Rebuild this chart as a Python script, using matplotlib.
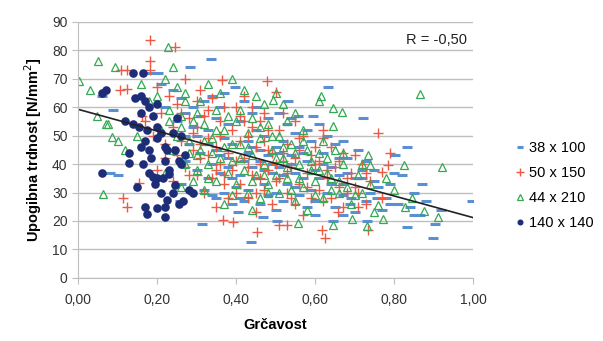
import numpy as np
import matplotlib.pyplot as plt
from matplotlib.ticker import FuncFormatter

plt.rcParams['font.family'] = ['Liberation Sans', 'DejaVu Sans']

# values: (grcavost, strength)
s38 = [(0.06, 64), (0.089, 59), (0.081, 37), (0.102, 36), (0.182, 72), (0.203, 72),
       (0.284, 74), (0.337, 77), (0.397, 67), (0.532, 62), (0.557, 57), (0.596, 57),
       (0.632, 67), (0.722, 56), (0.67, 48), (0.832, 46), (0.803, 43), (0.998, 27),
       (0.834, 18), (0.9, 14), (0.904, 19), (0.866, 22), (0.85, 22), (0.79, 26),
       (0.81, 26), (0.756, 28), (0.731, 20), (0.672, 22), (0.646, 20), (0.689, 26),
       (0.313, 19), (0.438, 12.5), (0.469, 21.5), (0.406, 23), (0.503, 20), (0.258, 27),
       (0.21, 68), (0.24, 66), (0.26, 63), (0.22, 60), (0.27, 58), (0.25, 55), (0.29, 53),
       (0.3, 50), (0.28, 47), (0.31, 44), (0.27, 41), (0.3, 38), (0.33, 35), (0.26, 33),
       (0.32, 31), (0.34, 64), (0.36, 60), (0.35, 56), (0.38, 54), (0.33, 52), (0.37, 49),
       (0.39, 47), (0.35, 45), (0.38, 42), (0.34, 40), (0.36, 37), (0.39, 35), (0.4, 32),
       (0.37, 30), (0.35, 28), (0.39, 26), (0.41, 28), (0.42, 62), (0.44, 58), (0.41, 55),
       (0.45, 52), (0.47, 50), (0.43, 48), (0.46, 45), (0.48, 43), (0.42, 41), (0.44, 39),
       (0.49, 37), (0.45, 35), (0.47, 33), (0.43, 31), (0.48, 29), (0.46, 26), (0.5, 24),
       (0.51, 58), (0.53, 54), (0.55, 51), (0.52, 48), (0.56, 46), (0.54, 43), (0.58, 41),
       (0.51, 39), (0.55, 37), (0.57, 35), (0.53, 33), (0.59, 31), (0.56, 29), (0.52, 27),
       (0.58, 25), (0.6, 22), (0.61, 54), (0.63, 50), (0.65, 47), (0.62, 44), (0.66, 42),
       (0.64, 39), (0.68, 37), (0.61, 35), (0.67, 33), (0.63, 30), (0.69, 28), (0.65, 25),
       (0.7, 23), (0.71, 45), (0.73, 41), (0.75, 38), (0.72, 35), (0.76, 32), (0.74, 30),
       (0.78, 28), (0.77, 24), (0.79, 33), (0.82, 36), (0.85, 30), (0.88, 27), (0.84, 25),
       (0.92, 24), (0.87, 33),
       (0.29, 60), (0.31, 57), (0.33, 47), (0.36, 43), (0.38, 39), (0.41, 36), (0.43, 44),
       (0.44, 46), (0.46, 41), (0.47, 38), (0.49, 40), (0.5, 46), (0.51, 44), (0.52, 36),
       (0.54, 40), (0.55, 32), (0.57, 44), (0.59, 48), (0.6, 38), (0.62, 40), (0.64, 33),
       (0.66, 36), (0.67, 29), (0.7, 35), (0.72, 38), (0.73, 27), (0.27, 50), (0.32, 62),
       (0.37, 65), (0.45, 60), (0.48, 56), (0.54, 56), (0.58, 52), (0.34, 29), (0.42, 27),
       (0.5, 30), (0.6, 27), (0.68, 42), (0.75, 34), (0.8, 37)]

s50 = [(0.182, 83.5), (0.246, 81), (0.182, 76), (0.182, 73), (0.123, 73), (0.11, 73),
       (0.364, 69.5), (0.478, 69), (0.501, 65.4), (0.106, 66), (0.125, 66.5), (0.161, 57),
       (0.759, 51), (0.621, 52), (0.786, 39.6), (0.769, 37.3), (0.735, 17), (0.625, 14),
       (0.617, 17), (0.659, 23), (0.452, 16), (0.368, 20.4), (0.393, 19.8), (0.115, 28),
       (0.123, 25), (0.528, 18.6), (0.51, 18.6), (0.154, 33.4),
       (0.2, 67), (0.23, 64), (0.27, 70), (0.25, 61), (0.21, 58), (0.28, 56), (0.24, 53),
       (0.19, 50), (0.26, 48), (0.29, 45), (0.22, 42), (0.27, 39), (0.3, 36), (0.24, 34),
       (0.28, 31), (0.2, 38), (0.17, 55), (0.3, 62), (0.31, 66), (0.34, 63), (0.37, 60),
       (0.32, 57), (0.36, 55), (0.39, 52), (0.33, 49), (0.35, 46), (0.38, 44), (0.31, 42),
       (0.36, 40), (0.39, 38), (0.34, 35), (0.37, 33), (0.32, 30), (0.38, 28), (0.35, 25),
       (0.4, 60), (0.42, 64), (0.44, 60), (0.41, 57), (0.46, 55), (0.48, 52), (0.43, 50),
       (0.47, 48), (0.45, 46), (0.49, 44), (0.42, 42), (0.46, 40), (0.48, 38), (0.44, 36),
       (0.41, 33), (0.47, 31), (0.43, 28), (0.49, 26), (0.45, 23), (0.52, 58), (0.55, 55),
       (0.51, 52), (0.57, 50), (0.53, 47), (0.56, 45), (0.59, 43), (0.52, 41), (0.54, 39),
       (0.58, 37), (0.51, 35), (0.56, 33), (0.53, 30), (0.59, 28), (0.55, 26), (0.57, 22),
       (0.62, 49), (0.64, 46), (0.67, 44), (0.61, 41), (0.65, 39), (0.69, 37), (0.63, 35),
       (0.66, 32), (0.68, 30), (0.62, 27), (0.67, 25), (0.7, 43), (0.72, 40), (0.74, 34),
       (0.71, 30), (0.77, 28), (0.73, 26), (0.79, 44),
       (0.26, 58), (0.29, 51), (0.31, 47), (0.33, 43), (0.35, 38), (0.37, 36), (0.4, 41),
       (0.41, 48), (0.43, 39), (0.44, 53), (0.46, 35), (0.47, 58), (0.48, 45), (0.5, 40),
       (0.5, 34), (0.52, 44), (0.53, 37), (0.55, 42), (0.56, 49), (0.58, 32), (0.6, 40),
       (0.6, 46), (0.61, 31), (0.63, 38), (0.64, 28), (0.66, 41), (0.68, 35), (0.7, 32),
       (0.71, 25), (0.73, 37), (0.22, 47), (0.25, 43), (0.28, 36), (0.3, 53), (0.33, 59),
       (0.4, 30), (0.45, 30), (0.54, 28), (0.36, 50), (0.42, 55)]

s44 = [(0.003, 69), (0.051, 76), (0.094, 74), (0.03, 66), (0.229, 81), (0.389, 70),
       (0.494, 62.5), (0.047, 57), (0.07, 54), (0.076, 54), (0.085, 49.6), (0.867, 64.6),
       (0.614, 64), (0.61, 62), (0.646, 59.5), (0.668, 58.4), (0.646, 53.3), (0.921, 38.8),
       (0.826, 39.6), (0.735, 43), (0.738, 39.6), (0.72, 40), (0.845, 28), (0.828, 25),
       (0.876, 23.5), (0.912, 21.3), (0.76, 25.6), (0.75, 23), (0.773, 20.7), (0.693, 20.6),
       (0.646, 18.6), (0.731, 18.4), (0.064, 29.5), (0.558, 19.2), (0.44, 24), (0.1, 48),
       (0.12, 45), (0.24, 74), (0.22, 70), (0.25, 67), (0.2, 64), (0.27, 62), (0.23, 59),
       (0.26, 57), (0.29, 55), (0.21, 52), (0.25, 50), (0.28, 48), (0.24, 45), (0.3, 43),
       (0.27, 40), (0.22, 37), (0.29, 34), (0.26, 32), (0.16, 68), (0.18, 62), (0.15, 50),
       (0.33, 68), (0.36, 65), (0.31, 62), (0.35, 59), (0.38, 57), (0.32, 54), (0.37, 52),
       (0.34, 49), (0.39, 47), (0.31, 45), (0.36, 42), (0.33, 40), (0.38, 37), (0.35, 34),
       (0.32, 31), (0.39, 29), (0.37, 26), (0.42, 66), (0.45, 64), (0.47, 61), (0.41, 59),
       (0.44, 56), (0.48, 54), (0.43, 51), (0.46, 49), (0.41, 47), (0.49, 45), (0.44, 43),
       (0.47, 40), (0.42, 38), (0.45, 36), (0.48, 33), (0.43, 30), (0.46, 28), (0.5, 65),
       (0.52, 61), (0.55, 58), (0.53, 55), (0.57, 52), (0.51, 50), (0.54, 47), (0.58, 45),
       (0.52, 42), (0.56, 40), (0.59, 38), (0.53, 35), (0.57, 32), (0.51, 30), (0.55, 27),
       (0.58, 24), (0.62, 48), (0.65, 45), (0.63, 42), (0.67, 40), (0.61, 38), (0.64, 35),
       (0.68, 32), (0.66, 30), (0.62, 28), (0.69, 26), (0.71, 36), (0.74, 33), (0.72, 30),
       (0.78, 35), (0.8, 31),
       (0.26, 53), (0.28, 44), (0.3, 58), (0.32, 48), (0.34, 44), (0.35, 52), (0.37, 46),
       (0.39, 41), (0.4, 55), (0.41, 42), (0.43, 46), (0.44, 34), (0.46, 53), (0.47, 36),
       (0.49, 50), (0.5, 42), (0.5, 36), (0.52, 46), (0.53, 39), (0.55, 44), (0.56, 35),
       (0.57, 48), (0.59, 41), (0.6, 34), (0.61, 44), (0.63, 37), (0.64, 31), (0.66, 34),
       (0.67, 44), (0.7, 29), (0.23, 55), (0.27, 65), (0.3, 38), (0.33, 35), (0.4, 33),
       (0.48, 30), (0.54, 31), (0.6, 29)]

s140 = [(0.06, 65), (0.07, 66), (0.06, 37), (0.14, 72), (0.165, 72), (0.145, 63),
        (0.16, 64), (0.17, 62), (0.18, 60), (0.16, 58), (0.19, 57), (0.12, 55), (0.14, 54),
        (0.155, 53), (0.175, 52), (0.2, 53), (0.21, 51), (0.24, 51), (0.26, 50), (0.17, 48),
        (0.2, 49), (0.22, 46), (0.245, 45), (0.18, 45), (0.13, 44), (0.225, 45), (0.165, 40),
        (0.13, 40.5), (0.22, 41), (0.255, 41), (0.26, 40), (0.18, 37), (0.19, 35.5),
        (0.2, 35), (0.215, 35), (0.23, 36.5), (0.195, 33), (0.245, 32.5), (0.15, 32),
        (0.21, 30), (0.24, 30), (0.29, 30), (0.225, 27.5), (0.265, 27), (0.17, 25),
        (0.2, 24.5), (0.22, 25), (0.255, 26), (0.175, 22.5), (0.22, 21.5), (0.23, 38),
        (0.27, 43), (0.16, 46), (0.185, 42), (0.28, 31), (0.2, 61), (0.25, 56)]

labels = ['38 x 100', '50 x 150', '44 x 210', '140 x 140']
trend_x = [0.0, 1.0]
trend_y = [59.2, 21.2]
r_text = 'R = -0,50'

fig = plt.figure(figsize=(6.03, 3.41), dpi=100)
ax = fig.add_axes([0.1294, 0.1848, 0.655, 0.752])

x, y = np.array(s38).T
ax.plot(x, y, ls='none', marker='_', ms=7, mew=2.2, color='#5a8fd2', label=labels[0])
x, y = np.array(s50).T
ax.plot(x, y, ls='none', marker='+', ms=7.5, mew=1, color='#ec5a45', label=labels[1])
x, y = np.array(s44).T
ax.plot(x, y, ls='none', marker='^', ms=6, mew=0.9, mfc='none', color='#34a853',
        label=labels[2])
x, y = np.array(s140).T
ax.plot(x, y, ls='none', marker='o', ms=6.2, mew=0, color='#1e2d78', label=labels[3])

ax.plot(trend_x, trend_y, color='#222222', lw=1.2)

ax.set_xlim(0, 1)
ax.set_ylim(0, 90)
ax.set_xticks(np.arange(0, 1.01, 0.2))
ax.set_yticks(np.arange(0, 91, 10))
ax.xaxis.set_major_formatter(FuncFormatter(lambda v, p: f'{v:.2f}'.replace('.', ',')))
ax.grid(axis='y', color='#bfbfbf', lw=1)
ax.set_axisbelow(True)
for s in ['top', 'right']:
    ax.spines[s].set_visible(False)
for s in ['left', 'bottom']:
    ax.spines[s].set_color('#bfbfbf')
ax.tick_params(colors='#bfbfbf', labelcolor='#333333', labelsize=10, length=4)
ax.tick_params(axis='x', pad=7)

ax.set_xlabel('Grčavost', fontsize=10.5, fontweight='bold', labelpad=8)
ax.set_ylabel('Upogibna trdnost [N/mm$^2$]', fontsize=10.5, fontweight='bold', labelpad=6)
ax.text(0.985, 0.955, r_text, transform=ax.transAxes, ha='right', va='top',
        fontsize=10.5, color='#222222')

ax.legend(loc='center left', bbox_to_anchor=(1.075, 0.36), frameon=False, fontsize=10.5,
          handlelength=0.6, handletextpad=0.3, labelspacing=0.75, markerscale=0.7)

fig.savefig('out.png', dpi=100)
